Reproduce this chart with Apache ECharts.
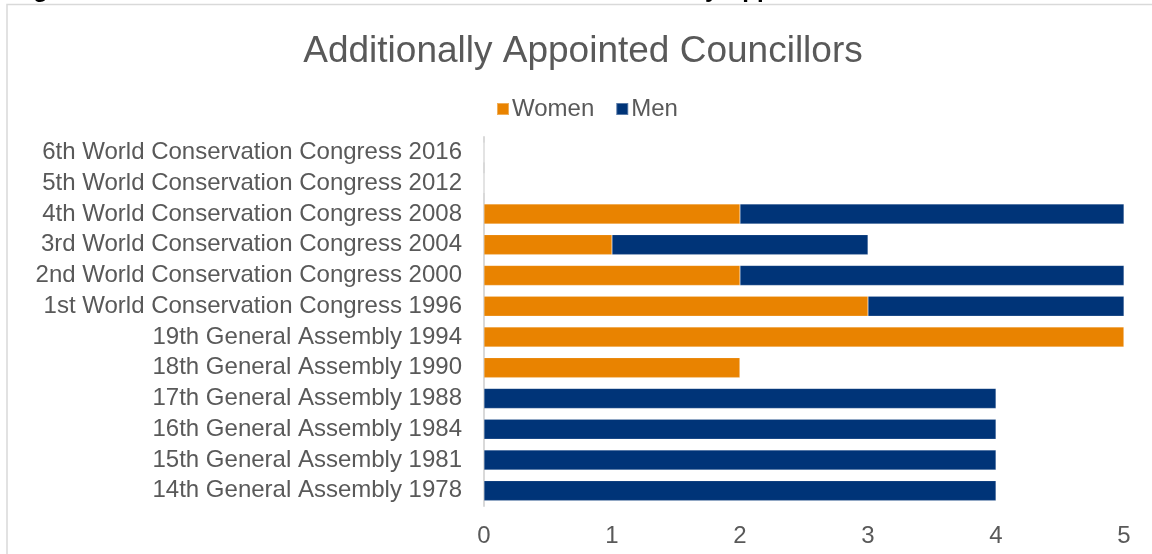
<!DOCTYPE html>
<html>
<head>
<meta charset="utf-8">
<script src="https://cdn.jsdelivr.net/npm/echarts@6/dist/echarts.min.js"></script>
<style>
  html, body { margin: 0; padding: 0; background: #fff; }
  #chart { width: 1152px; height: 554px; }
</style>
</head>
<body>
<div id="chart"></div>
<script>
// top to bottom, as in the picture
const categories = [
  '6th World Conservation Congress 2016',
  '5th World Conservation Congress 2012',
  '4th World Conservation Congress 2008',
  '3rd World Conservation Congress 2004',
  '2nd World Conservation Congress 2000',
  '1st World Conservation Congress 1996',
  '19th General Assembly 1994',
  '18th General Assembly 1990',
  '17th General Assembly 1988',
  '16th General Assembly 1984',
  '15th General Assembly 1981',
  '14th General Assembly 1978',
]
const women = [0, 0, 2, 1, 2, 3, 5, 2, 0, 0, 0, 0]
const men = [0, 0, 3, 2, 3, 2, 0, 0, 4, 4, 4, 4]
const valueTicks = [0, 1, 2, 3, 4, 5]

const font = '"Liberation Sans", Arial, sans-serif'
const textColor = '#595959'

const chart = echarts.init(document.getElementById('chart'), null, { renderer: 'canvas' })

chart.setOption({
  animation: false,
  color: ['#E98300', '#003478'],
  textStyle: { fontFamily: font },
  graphic: [
    {
      // page heading above the chart, cut off by the top edge
      type: 'text',
      left: 12,
      top: -22,
      style: {
        text: 'Figure 10: Women and Men in the IUCN Council – Additionally Appointed Councillors',
        font: 'bold 24px ' + font,
        fill: '#000',
      },
    },
    {
      type: 'rect',
      shape: { x: 7, y: 4.5, width: 1200, height: 600 },
      style: { fill: 'none', stroke: '#d9d9d9', lineWidth: 1.5 },
      silent: true,
    },
  ],
  title: {
    text: 'Additionally Appointed Councillors',
    left: 578,
    textAlign: 'center',
    top: 28,
    textStyle: { color: textColor, fontSize: 37, fontWeight: 'normal', fontFamily: font },
  },
  legend: {
    left: 491,
    top: 92,
    itemWidth: 12,
    itemHeight: 12,
    itemGap: 21,
    icon: 'rect',
    textStyle: { color: textColor, fontSize: 24, fontFamily: font, padding: [0, 0, 0, -2] },
    data: ['Women', 'Men'],
  },
  grid: { left: 484, right: 28, top: 137, bottom: 48, containLabel: false },
  xAxis: {
    type: 'value',
    min: valueTicks[0],
    max: valueTicks[valueTicks.length - 1],
    interval: 1,
    axisLine: { show: false },
    axisTick: { show: false },
    splitLine: { show: false },
    axisLabel: { color: textColor, fontSize: 24, margin: 18, fontFamily: font },
  },
  yAxis: {
    type: 'category',
    inverse: true,
    data: categories,
    axisLine: { lineStyle: { color: '#d9d9d9', width: 2 } },
    axisTick: { show: false },
    axisLabel: { color: textColor, fontSize: 24, margin: 22, interval: 0, fontFamily: font },
  },
  series: [
    {
      name: 'Women',
      type: 'bar',
      stack: 'total',
      barWidth: 20,
      data: women,
      itemStyle: { borderColor: 'rgba(255,255,255,0.35)', borderWidth: 0.5 },
    },
    {
      name: 'Men',
      type: 'bar',
      stack: 'total',
      barWidth: 20,
      data: men,
      itemStyle: { borderColor: 'rgba(255,255,255,0.35)', borderWidth: 0.5 },
    },
  ],
})
</script>
</body>
</html>
